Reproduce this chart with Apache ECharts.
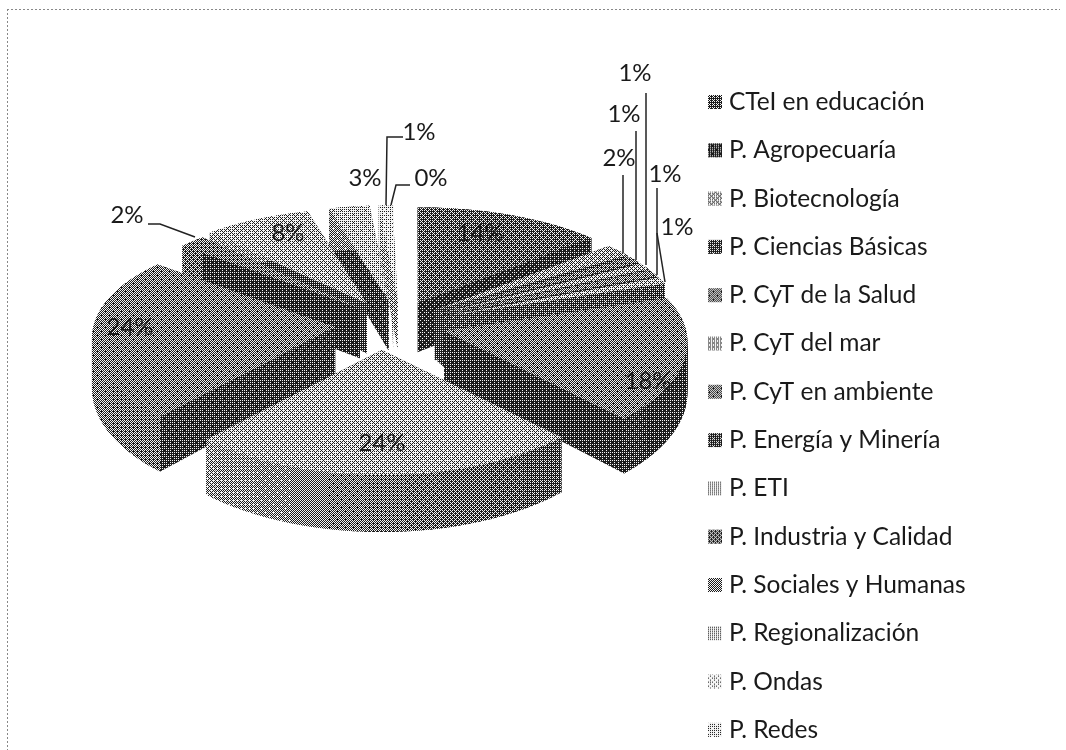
<!DOCTYPE html>
<html>
<head>
<meta charset="utf-8">
<style>html,body{margin:0;padding:0;background:#fff}#chart{width:1066px;height:750px}</style>
<script src="https://cdn.jsdelivr.net/npm/echarts@6/dist/echarts.min.js"></script>
</head>
<body>
<div id="chart"></div>
<script>
// data, clockwise from 12 o'clock
const categories = ['CTeI en educación','P. Agropecuaría','P. Biotecnología','P. Ciencias Básicas','P. CyT de la Salud','P. CyT del mar','P. CyT en ambiente','P. Energía y Minería','P. ETI','P. Industria y Calidad','P. Sociales y Humanas','P. Regionalización','P. Ondas','P. Redes'];
const shares = [14,2,1,1,1,1,18,24,24,2,8,3,1,0.4];

// grey levels of the scan (0 black, 255 white)
const topGrey = [90,150,110,160,120,170,120,170,120,110,170,185,205,215];
const wallGrey = [40,60,50,70,50,70,45,60,55,50,60,55,150,170];
const swatchGrey = [80,55,165,70,120,175,120,70,190,95,125,195,215,200];

// label anchor [x, y] and leader polyline, layout only
const labelPos = [[480,233],[619,158],[624,114],[635,73],[665,174],[677,227],[648,381],[382,443],[130,327],[127,215],[288,233],[365,178],[419,132],[431,178]];
const leaders = [null,[[623,175],[623,253]],[[636,131],[636,260]],[[646,93],[646,265]],[[657,188],[657,275]],[[657,233],[665,282]],null,null,null,[[148,224],[160,224],[195,237]],null,null,[[403,137],[387,137],[386,205]],[[410,185],[396,185],[391,205]]];
// small hand nudges of the exploded slices, the scan is not quite regular
const nudgeX = [5,0,0,0,0,0,0,-7,5,15,8,11,13,6];

const pie = {cx:388, cy:325, rx:242, ry:110, kx:0.103, ky:0.137, depth:50, kd:0.14, ex:58, ey:25};
const total = shares.reduce((a,b)=>a+b,0);

// ordered dither tile so the fills look like the photocopied original
const bayer = [[0,32,8,40,2,34,10,42],[48,16,56,24,50,18,58,26],[12,44,4,36,14,46,6,38],[60,28,52,20,62,30,54,22],[3,35,11,43,1,33,9,41],[51,19,59,27,49,17,57,25],[15,47,7,39,13,45,5,37],[63,31,55,23,61,29,53,21]];
const tiles = {};
function tile(grey){
  const g = Math.round(grey/8)*8;
  if(tiles[g]) return tiles[g];
  const c = document.createElement('canvas');
  c.width = c.height = 8;
  const ctx = c.getContext('2d');
  for(let y=0;y<8;y++){
    for(let x=0;x<8;x++){
      const on = (bayer[y][x]+0.5)/64 < g/255;
      ctx.fillStyle = on ? '#f4f4f4' : '#1c1c1c';
      ctx.fillRect(x,y,1,1);
    }
  }
  tiles[g] = {image:c, repeat:'repeat'};
  return tiles[g];
}

function project(a, r){
  const nx = r*Math.sin(a), ny = -r*Math.cos(a);
  return [pie.rx*nx*(1+pie.kx*ny), pie.ry*ny*(1+pie.ky*ny), pie.depth*(1+pie.kd*ny)];
}

const slices = [];
let acc = 0;
shares.forEach((v,i)=>{
  const a0 = acc/total*2*Math.PI;
  acc += v;
  const a1 = acc/total*2*Math.PI;
  const mid = (a0+a1)/2;
  slices.push({a0,a1,mid,ox:pie.cx+pie.ex*Math.sin(mid)+nudgeX[i],oy:pie.cy-pie.ey*Math.cos(mid)});
});

function renderSlice(i){
  const s = slices[i];
  const n = Math.max(2,Math.ceil((s.a1-s.a0)/0.05));
  const rim = [];
  for(let k=0;k<=n;k++){
    const a = s.a0+(s.a1-s.a0)*k/n;
    const p = project(a,1);
    rim.push([s.ox+p[0],s.oy+p[1],p[2],a]);
  }
  const c = project(0,0);
  const apex = [s.ox,s.oy];
  const apexLow = [s.ox,s.oy+c[2]];
  const top = [apex].concat(rim.map(p=>[p[0],p[1]]));
  const first = rim[0], last = rim[n];
  const side = tile(wallGrey[i]);
  const poly = (points,fill)=>({type:'polygon',shape:{points},style:{fill}});
  const kids = [
    poly([apex,[first[0],first[1]],[first[0],first[1]+first[2]],apexLow],side),
    poly([apex,[last[0],last[1]],[last[0],last[1]+last[2]],apexLow],side)
  ];
  // rim wall is lit from the left, so it is split into bands
  for(let k=0;k<n;k++){
    const p = rim[k], q = rim[Math.min(n,k+2)];
    const light = (1-Math.sin(p[3]))/2;
    const grey = wallGrey[i]+(topGrey[i]-wallGrey[i])*light;
    kids.push(poly([[p[0],p[1]],[q[0],q[1]],[q[0],q[1]+q[2]],[p[0],p[1]+p[2]]],tile(grey)));
  }
  kids.push(poly(top,tile(topGrey[i])));
  return {type:'group',children:kids};
}

function renderLabel(params, api){
  const i = api.value(0);
  const children = [{type:'text',style:{text:Math.round(shares[i]/total*100)+'%',x:labelPos[i][0],y:labelPos[i][1],align:'center',verticalAlign:'middle',font:'24px Lato',fill:'#1a1a1a'}}];
  if(leaders[i]){
    children.push({type:'polyline',shape:{points:leaders[i]},style:{stroke:'#222',lineWidth:1.5,fill:'none'}});
  }
  return {type:'group',children};
}

// back slices get painted first
const order = slices.map((s,i)=>[-Math.cos(s.mid),i]).sort((a,b)=>b[0]-a[0]);
const rank = [];
order.forEach((o,r)=>{rank[o[1]] = 14-r;});

const series = categories.map((name,i)=>({
  type:'custom',
  name,
  coordinateSystem:'none',
  z:rank[i]+2,
  silent:true,
  itemStyle:{color:tile(swatchGrey[i])},
  data:[[i]],
  renderItem:()=>renderSlice(i)
}));
series.push({
  type:'custom',
  name:'labels',
  coordinateSystem:'none',
  z:30,
  silent:true,
  data:categories.map((c,i)=>[i]),
  renderItem:renderLabel
});

const chart = echarts.init(document.getElementById('chart'));
chart.setOption({
  animation:false,
  backgroundColor:'#fff',
  legend:{
    orient:'vertical',
    left:708,
    top:89,
    padding:0,
    itemWidth:14,
    itemHeight:14,
    itemGap:22.3,
    selectedMode:false,
    icon:'rect',
    data:categories,
    textStyle:{fontFamily:'Lato',fontSize:24.5,lineHeight:26,color:'#1a1a1a',padding:[0,0,0,2]}
  },
  graphic:[
    {type:'line',shape:{x1:7,y1:9.5,x2:1060,y2:9.5},style:{stroke:'#888',lineWidth:1,lineDash:[2,2]}},
    {type:'line',shape:{x1:7.5,y1:9,x2:7.5,y2:750},style:{stroke:'#888',lineWidth:1,lineDash:[2,2]}}
  ],
  series
});
</script>
</body>
</html>
